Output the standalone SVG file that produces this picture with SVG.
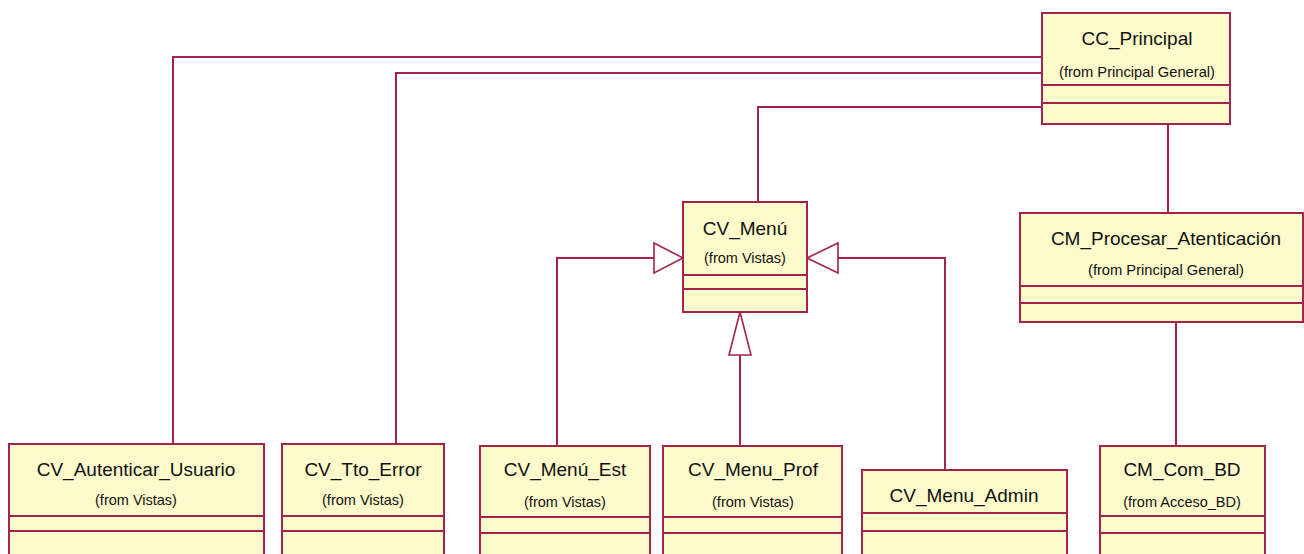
<svg xmlns="http://www.w3.org/2000/svg" width="1304" height="554" viewBox="0 0 1304 554">
<style>
.box{fill:#fdfbcb;stroke:#a3224e;stroke-width:2}
.sep{stroke:#a3224e;stroke-width:2}
.t{font-family:"Liberation Sans",Arial,sans-serif;font-size:19px;fill:#111;text-anchor:middle}
.s{font-family:"Liberation Sans",Arial,sans-serif;font-size:14.5px;fill:#111;text-anchor:middle}
.c{fill:none;stroke:#a3224e;stroke-width:2}
.g{fill:#fff;stroke:#a3224e;stroke-width:1.6}
</style>
<rect width="1304" height="554" fill="#fff"/>
<g id="connectors">
<polyline class="c" points="1042,57 173,57 173,444"/>
<polyline class="c" points="1042,73 396,73 396,444"/>
<polyline class="c" points="1042,107 758,107 758,202"/>
<line class="c" x1="1168" y1="124" x2="1168" y2="213"/>
<line class="c" x1="1176" y1="322" x2="1176" y2="446"/>
<polyline class="c" points="557,446 557,258 654,258"/>
<polygon class="g" points="654,243 683,258 654,273"/>
<polyline class="c" points="945,470 945,258 838,258"/>
<polygon class="g" points="838,243 807,258 838,273"/>
<line class="c" x1="740" y1="446" x2="740" y2="355"/>
<polygon class="g" points="740,312 729,355 751,355"/>
</g>
<g id="CC_Principal">
<rect class="box" x="1042" y="13" width="188" height="111"/>
<line class="sep" x1="1042" y1="85" x2="1230" y2="85"/>
<line class="sep" x1="1042" y1="103" x2="1230" y2="103"/>
<text class="t" x="1137" y="45">CC_Principal</text>
<text class="s" x="1137" y="77" textLength="156" lengthAdjust="spacingAndGlyphs">(from Principal General)</text>
</g>
<g id="CV_Menu">
<rect class="box" x="683" y="202" width="124" height="110"/>
<line class="sep" x1="683" y1="275" x2="807" y2="275"/>
<line class="sep" x1="683" y1="289" x2="807" y2="289"/>
<text class="t" x="745" y="235">CV_Menú</text>
<text class="s" x="745" y="263">(from Vistas)</text>
</g>
<g id="CM_Procesar_Atenticacion">
<rect class="box" x="1020" y="213" width="283" height="109"/>
<line class="sep" x1="1020" y1="286" x2="1303" y2="286"/>
<line class="sep" x1="1020" y1="303" x2="1303" y2="303"/>
<text class="t" x="1166" y="245">CM_Procesar_Atenticación</text>
<text class="s" x="1166" y="275" textLength="156" lengthAdjust="spacingAndGlyphs">(from Principal General)</text>
</g>
<g id="CV_Autenticar_Usuario">
<rect class="box" x="9" y="444" width="255" height="115"/>
<line class="sep" x1="9" y1="516" x2="264" y2="516"/>
<line class="sep" x1="9" y1="531" x2="264" y2="531"/>
<text class="t" x="136" y="476">CV_Autenticar_Usuario</text>
<text class="s" x="136" y="505">(from Vistas)</text>
</g>
<g id="CV_Tto_Error">
<rect class="box" x="282" y="444" width="162" height="115"/>
<line class="sep" x1="282" y1="516" x2="444" y2="516"/>
<line class="sep" x1="282" y1="531" x2="444" y2="531"/>
<text class="t" x="363" y="476">CV_Tto_Error</text>
<text class="s" x="363" y="505">(from Vistas)</text>
</g>
<g id="CV_Menu_Est">
<rect class="box" x="480" y="446" width="170" height="113"/>
<line class="sep" x1="480" y1="517" x2="650" y2="517"/>
<line class="sep" x1="480" y1="533" x2="650" y2="533"/>
<text class="t" x="565" y="476">CV_Menú_Est</text>
<text class="s" x="565" y="507">(from Vistas)</text>
</g>
<g id="CV_Menu_Prof">
<rect class="box" x="663" y="446" width="179" height="113"/>
<line class="sep" x1="663" y1="517" x2="842" y2="517"/>
<line class="sep" x1="663" y1="533" x2="842" y2="533"/>
<text class="t" x="753" y="476">CV_Menu_Prof</text>
<text class="s" x="753" y="507">(from Vistas)</text>
</g>
<g id="CV_Menu_Admin">
<rect class="box" x="862" y="470" width="205" height="89"/>
<line class="sep" x1="862" y1="513" x2="1067" y2="513"/>
<line class="sep" x1="862" y1="531" x2="1067" y2="531"/>
<text class="t" x="964" y="502">CV_Menu_Admin</text>
</g>
<g id="CM_Com_BD">
<rect class="box" x="1100" y="446" width="165" height="113"/>
<line class="sep" x1="1100" y1="516" x2="1265" y2="516"/>
<line class="sep" x1="1100" y1="533" x2="1265" y2="533"/>
<text class="t" x="1182" y="476">CM_Com_BD</text>
<text class="s" x="1182" y="507">(from Acceso_BD)</text>
</g>
</svg>
